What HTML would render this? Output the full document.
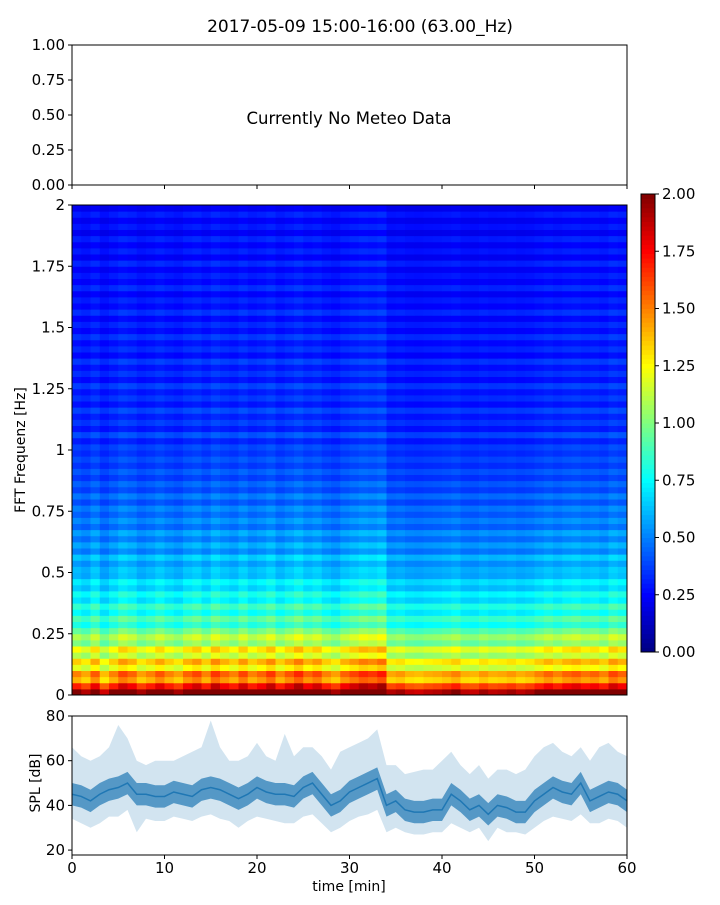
<!DOCTYPE html>
<html><head><meta charset="utf-8"><style>
body{margin:0;background:#fff;}
svg text{font-family:"DejaVu Sans","Liberation Sans",sans-serif;fill:#000;}
</style></head><body>
<svg id="fig" width="720" height="900" xmlns="http://www.w3.org/2000/svg">
<text x="360" y="32" font-size="17" text-anchor="middle">2017-05-09 15:00-16:00 (63.00_Hz)</text>
<g id="topPanel">
<rect x="72" y="45" width="555" height="140" fill="none" stroke="#000" stroke-width="1"/>
<text x="349" y="124" font-size="16.5" text-anchor="middle">Currently No Meteo Data</text>
</g>
<g id="heat"></g>
<g id="cbar"></g>
<g id="spl"></g>
<text transform="translate(25,450) rotate(-90)" font-size="14" text-anchor="middle">FFT Frequenz [Hz]</text>
<text transform="translate(40,783) rotate(-90)" font-size="14" text-anchor="middle">SPL [dB]</text>
<text x="349" y="891" font-size="14" text-anchor="middle">time [min]</text>
</svg>
<script>
const topTicks=[0,0.25,0.5,0.75,1];
const timeTicks=[0,10,20,30,40,50,60];
const freqTicks=[0,0.25,0.5,0.75,1,1.25,1.5,1.75,2];
const freqTickLabels=["0","0.25","0.5","0.75","1","1.25","1.5","1.75","2"];
const cbarTicks=[0,0.25,0.5,0.75,1,1.25,1.5,1.75,2];
const splTicks=[20,40,60,80];
// spectrogram: per-frequency-row level (0..2 Hz, 80 rows) and per-minute modulation (60 cols)
const rowLevel=[2.0,1.7,1.4,1.5,1.2,1.35,1.1,1.25,1.0,1.1,
0.95,0.8,0.9,0.75,0.85,0.7,0.78,0.65,0.72,0.6,
0.62,0.55,0.64,0.5,0.58,0.48,0.56,0.45,0.52,0.44,
0.5,0.4,0.48,0.38,0.44,0.36,0.42,0.35,0.4,0.34,
0.38,0.3,0.4,0.29,0.36,0.3,0.38,0.28,0.35,0.29,
0.37,0.27,0.34,0.28,0.36,0.26,0.33,0.27,0.35,0.26,
0.32,0.25,0.34,0.26,0.31,0.24,0.33,0.25,0.3,0.24,
0.32,0.23,0.3,0.24,0.31,0.22,0.29,0.23,0.3,0.22];
const colLevel=[1.0,0.95,1.05,0.92,1.0,1.08,1.04,0.96,1.0,1.06,1.0,0.96,1.04,1.08,1.0,1.1,1.04,1.0,1.08,1.0,1.04,1.1,1.0,1.06,1.12,1.04,1.08,1.0,0.96,1.04,1.08,1.12,1.1,1.14,0.95,0.97,0.93,0.92,0.94,0.95,0.97,1.0,0.94,0.93,0.97,0.94,0.95,0.97,0.94,0.96,1.0,1.04,1.0,1.04,1.06,1.02,1.04,1.0,1.08,1.04];
// SPL per minute (0..60): core band and spike envelope
const splMid=[45,44,42,45,47,48,50,45,45,44,44,46,45,44,47,48,47,45,43,45,48,46,45,45,44,48,50,45,40,42,46,48,50,52,40,42,38,37,37,38,38,45,42,38,40,36,40,39,37,37,42,45,48,46,45,50,42,44,46,45,42];
const splHi=[66,62,60,62,66,76,70,60,58,60,60,60,62,64,66,78,66,60,60,62,68,62,60,72,62,66,66,62,56,64,66,68,70,74,58,58,54,55,56,56,60,64,58,54,58,52,56,56,54,56,62,66,68,64,62,66,60,66,68,64,62];
const splLo=[34,32,30,32,35,35,38,28,34,33,33,35,34,33,35,36,34,33,30,33,35,34,33,32,32,35,36,32,28,30,33,35,36,38,28,30,28,27,27,28,28,32,30,28,30,24,30,28,28,27,30,33,35,34,33,36,32,32,34,33,30];

const NS="http://www.w3.org/2000/svg";
function mk(tag,attrs,parent){const e=document.createElementNS(NS,tag);for(const k in attrs)e.setAttribute(k,attrs[k]);parent.appendChild(e);return e;}
const X0=72,X1=627;
const xT=t=>X0+(t/60)*(X1-X0);
const yTop=v=>185-v*140;
const yF=f=>695-(f/2)*490;
const yC=v=>652-(v/2)*458;
const yS=v=>855-(v-17.8)/(80-17.8)*139;
function jet(v){v=Math.max(0,Math.min(1,v));const r=Math.max(0,Math.min(1,1.5-Math.abs(4*v-3)));const g=Math.max(0,Math.min(1,1.5-Math.abs(4*v-2)));const b=Math.max(0,Math.min(1,1.5-Math.abs(4*v-1)));return `rgb(${Math.round(r*255)},${Math.round(g*255)},${Math.round(b*255)})`;}

const topG=document.getElementById('topPanel');
topTicks.forEach(v=>{const y=yTop(v);mk('line',{x1:X0-4,x2:X0,y1:y,y2:y,stroke:'#000'},topG);
const t=mk('text',{x:X0-7,y:y+5,'font-size':15,'text-anchor':'end'},topG);t.textContent=v.toFixed(2);

});
timeTicks.forEach(v=>{mk('line',{x1:xT(v),x2:xT(v),y1:185,y2:189,stroke:'#000'},topG);});

const heat=document.getElementById('heat');
const nR=rowLevel.length,nC=colLevel.length;
const cw=(X1-X0)/nC;
for(let r=0;r<nR;r++){for(let c=0;c<nC;c++){
const v=Math.min(2,rowLevel[r]*colLevel[c]);
const fy0=r*2/nR,fy1=(r+1)*2/nR;
const cell=mk('rect',{x:xT(c),y:yF(fy1),width:cw+0.5,height:yF(fy0)-yF(fy1)+0.5,fill:jet(v/2)},heat);

}}
mk('rect',{x:X0,y:205,width:X1-X0,height:490,fill:'none',stroke:'#000'},heat);
freqTicks.forEach((f,i)=>{const y=yF(f);mk('line',{x1:X0-4,x2:X0,y1:y,y2:y,stroke:'#000'},heat);
const t=mk('text',{x:X0-7,y:y+5,'font-size':15,'text-anchor':'end'},heat);t.textContent=freqTickLabels[i];

});

const cb=document.getElementById('cbar');
for(let i=0;i<100;i++){const v0=i/100*2,v1=(i+1)/100*2;mk('rect',{x:641,y:yC(v1),width:14,height:yC(v0)-yC(v1)+0.5,fill:jet((i+0.5)/100)},cb);}
mk('rect',{x:641,y:194,width:14,height:458,fill:'none',stroke:'#000'},cb);
cbarTicks.forEach(v=>{const y=yC(v);mk('line',{x1:655,x2:659,y1:y,y2:y,stroke:'#000'},cb);
const t=mk('text',{x:662,y:y+5,'font-size':15},cb);t.textContent=v.toFixed(2);

});

const spl=document.getElementById('spl');
let ptsOuter='';splHi.forEach((v,i)=>ptsOuter+=xT(i)+','+yS(v)+' ');
for(let i=splLo.length-1;i>=0;i--)ptsOuter+=xT(i)+','+yS(splLo[i])+' ';
const band=mk('polygon',{points:ptsOuter,fill:'#1f77b4','fill-opacity':0.2},spl);


let ptsCore='';splMid.forEach((v,i)=>ptsCore+=xT(i)+','+yS(v+5)+' ');
for(let i=splMid.length-1;i>=0;i--)ptsCore+=xT(i)+','+yS(splMid[i]-5)+' ';
const core=mk('polygon',{points:ptsCore,fill:'#1f77b4','fill-opacity':0.7},spl);


let ptsLine='';splMid.forEach((v,i)=>ptsLine+=xT(i)+','+yS(v)+' ');
const ln=mk('polyline',{points:ptsLine,fill:'none',stroke:'#1f77b4','stroke-width':1.5},spl);


mk('rect',{x:X0,y:716,width:X1-X0,height:139,fill:'none',stroke:'#000'},spl);
splTicks.forEach(v=>{const y=yS(v);mk('line',{x1:X0-4,x2:X0,y1:y,y2:y,stroke:'#000'},spl);
const t=mk('text',{x:X0-7,y:y+5,'font-size':15,'text-anchor':'end'},spl);t.textContent=v;

});
timeTicks.forEach(v=>{mk('line',{x1:xT(v),x2:xT(v),y1:855,y2:859,stroke:'#000'},spl);
const t=mk('text',{x:xT(v),y:873,'font-size':15,'text-anchor':'middle'},spl);t.textContent=v;

});
</script>
</body></html>
